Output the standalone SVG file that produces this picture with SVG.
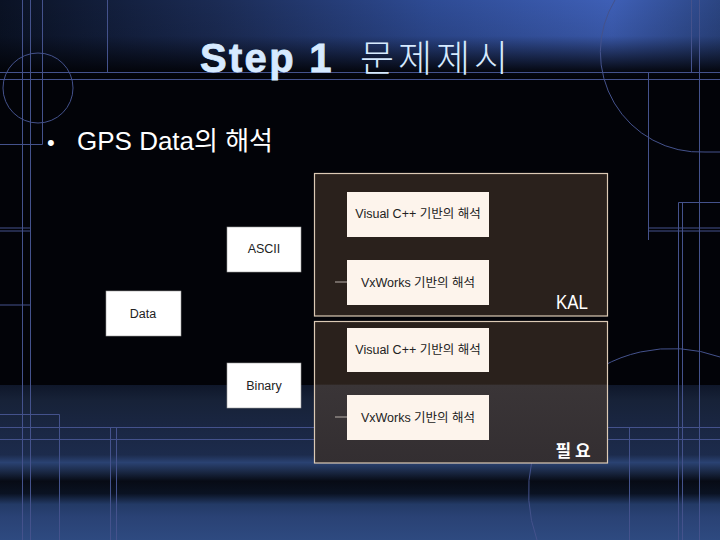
<svg xmlns="http://www.w3.org/2000/svg" width="720" height="540" viewBox="0 0 720 540">
<defs>
<linearGradient id="topH" x1="0" y1="0" x2="720" y2="0" gradientUnits="userSpaceOnUse">
<stop offset="0" stop-color="#0a1224"/>
<stop offset="0.3" stop-color="#1b2b54"/>
<stop offset="0.6" stop-color="#2e4b94"/>
<stop offset="0.85" stop-color="#3e5fb6"/>
<stop offset="1" stop-color="#2b4582"/>
</linearGradient>
<linearGradient id="topFade" x1="0" y1="0" x2="0" y2="80" gradientUnits="userSpaceOnUse">
<stop offset="0" stop-color="#020308" stop-opacity="0"/>
<stop offset="0.45" stop-color="#020308" stop-opacity="0.1"/>
<stop offset="0.9" stop-color="#020308" stop-opacity="0.95"/>
<stop offset="1" stop-color="#020308" stop-opacity="1"/>
</linearGradient>
<linearGradient id="bot" x1="0" y1="385" x2="0" y2="540" gradientUnits="userSpaceOnUse">
<stop offset="0" stop-color="#0f172a"/>
<stop offset="0.1" stop-color="#172238"/>
<stop offset="0.3" stop-color="#1a2744"/>
<stop offset="0.45" stop-color="#1c2b4c"/>
<stop offset="0.5" stop-color="#2a4272"/>
<stop offset="0.56" stop-color="#1a2844"/>
<stop offset="0.62" stop-color="#070b15"/>
<stop offset="0.7" stop-color="#0a1222"/>
<stop offset="0.77" stop-color="#233a66"/>
<stop offset="0.85" stop-color="#2a4275"/>
<stop offset="1" stop-color="#2e4a80"/>
</linearGradient>
<linearGradient id="frame2" x1="0" y1="322" x2="0" y2="463" gradientUnits="userSpaceOnUse">
<stop offset="0" stop-color="#2a211c"/>
<stop offset="0.44" stop-color="#2a211c"/>
<stop offset="0.45" stop-color="#3a3537"/>
<stop offset="1" stop-color="#332e31"/>
</linearGradient>
<style>
.bg{fill:none;stroke:#44528c;stroke-width:1}
.frame{stroke:#dccab5;stroke-width:1.2}
.inner{fill:#fdf4ec;stroke:none}
.box{fill:#ffffff;stroke:#9a9a9a;stroke-width:0.6}
.lbl{font-family:"Liberation Sans","Noto Sans CJK KR",sans-serif;font-size:12.5px;fill:#222;text-anchor:middle}
.conn{stroke:#b8b0aa;stroke-width:1}
</style>
</defs>
<!-- background -->
<rect x="0" y="0" width="720" height="540" fill="#020308"/>
<rect x="0" y="0" width="720" height="80" fill="url(#topH)"/>
<rect x="0" y="0" width="720" height="80" fill="url(#topFade)"/>
<rect x="0" y="385" width="720" height="155" fill="url(#bot)"/>
<g class="bg">
<line x1="0" y1="72.5" x2="720" y2="72.5"/>
<line x1="0" y1="79.5" x2="720" y2="79.5"/>
<line x1="22.5" y1="0" x2="22.5" y2="540"/>
<line x1="30.5" y1="0" x2="30.5" y2="540"/>
<polyline points="42.5,0 42.5,144.5 0,144.5"/>
<line x1="107.5" y1="0" x2="107.5" y2="72"/>
<circle cx="38" cy="88" r="35"/>
<line x1="0" y1="228" x2="30" y2="228"/>
<line x1="0" y1="231" x2="30" y2="231"/>
<line x1="0" y1="305" x2="30" y2="305"/>
<polyline points="0,414.5 59.5,414.5 59.5,540"/>
<line x1="0" y1="427.5" x2="720" y2="427.5"/>
<line x1="0" y1="439.5" x2="720" y2="439.5"/>
<line x1="110.5" y1="427" x2="110.5" y2="540"/>
<line x1="116.5" y1="427" x2="116.5" y2="540"/>
<line x1="629.5" y1="427" x2="629.5" y2="540"/>
<line x1="691.5" y1="0" x2="691.5" y2="72"/>
<line x1="699.5" y1="0" x2="699.5" y2="540"/>
<line x1="648.5" y1="72" x2="648.5" y2="240"/>
<line x1="648" y1="228" x2="720" y2="228"/>
<line x1="648" y1="231" x2="720" y2="231"/>
<polyline points="720,202.5 678.5,202.5 678.5,540"/>
<line x1="682.5" y1="202" x2="682.5" y2="540"/>
<path d="M615,0 A100,100 0 0 0 705,152 L720,152"/>
<path d="M720,357 A143,143 0 0 0 537,540"/>
</g>
<!-- title -->
<text x="200" y="72" font-family="'Liberation Sans',sans-serif" font-weight="bold" font-size="40" letter-spacing="2.3" fill="#d6eaff" stroke="#d6eaff" stroke-width="0.8">Step 1</text>
<text x="360" y="72" font-family="'Noto Sans CJK KR',sans-serif" font-weight="300" font-size="37" letter-spacing="4" fill="#d6eaff">문제제시</text>
<text x="47" y="150" font-family="'Liberation Sans',sans-serif" font-size="22" fill="#ffffff">•</text>
<text x="77" y="150" font-family="'Liberation Sans','Noto Sans CJK KR',sans-serif" font-size="26" fill="#ffffff">GPS Data의 해석</text>
<!-- frames -->
<g id="kal">
<rect class="frame" x="314.5" y="173.5" width="293" height="142.5" fill="#2a211c"/>
<text x="572" y="309" font-family="'Liberation Sans',sans-serif" font-size="20" fill="#ffffff" text-anchor="middle" textLength="32" lengthAdjust="spacingAndGlyphs">KAL</text>
</g>
<g id="need">
<rect class="frame" x="314.5" y="321.5" width="293" height="141.5" fill="url(#frame2)"/>
<text x="573" y="457" font-family="'Noto Sans CJK KR',sans-serif" font-weight="bold" font-size="17" fill="#ffffff" text-anchor="middle">필 요</text>
</g>
<!-- connectors -->
<g id="connectors">
<line class="conn" x1="335" y1="282" x2="347" y2="282"/>
<line class="conn" x1="335" y1="417" x2="347" y2="417"/>
</g>
<!-- nodes -->
<g id="vc1">
<rect class="inner" x="347" y="192" width="142" height="45"/>
<text class="lbl" x="418" y="218">Visual C++ 기반의 해석</text>
</g>
<g id="vx1">
<rect class="inner" x="347" y="260" width="142" height="45"/>
<text class="lbl" x="418" y="287">VxWorks 기반의 해석</text>
</g>
<g id="vc2">
<rect class="inner" x="347" y="328" width="142" height="44"/>
<text class="lbl" x="418" y="354">Visual C++ 기반의 해석</text>
</g>
<g id="vx2">
<rect class="inner" x="347" y="395" width="142" height="45"/>
<text class="lbl" x="418" y="422">VxWorks 기반의 해석</text>
</g>
<g id="ascii">
<rect class="box" x="227" y="227" width="74" height="45"/>
<text class="lbl" x="264" y="253">ASCII</text>
</g>
<g id="data">
<rect class="box" x="106" y="291" width="75" height="45"/>
<text class="lbl" x="143" y="318">Data</text>
</g>
<g id="binary">
<rect class="box" x="227" y="363" width="74" height="45"/>
<text class="lbl" x="264" y="390">Binary</text>
</g>
</svg>
